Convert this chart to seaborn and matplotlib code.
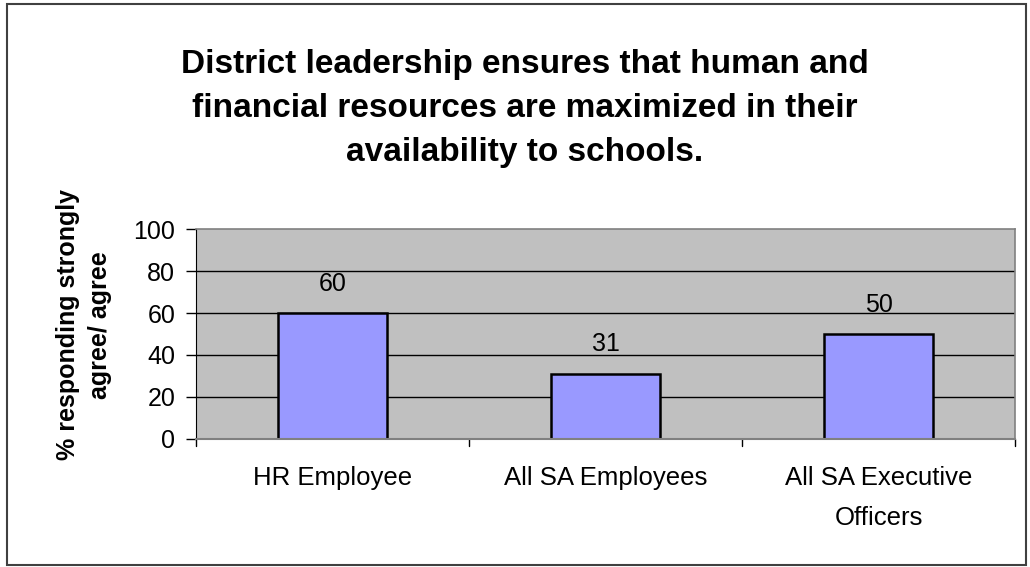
import matplotlib
matplotlib.use("Agg")
import matplotlib.pyplot as plt
import seaborn as sns
import pandas as pd
from matplotlib.patches import Rectangle

categories = ["HR Employee", "All SA Employees", "All SA Executive\nOfficers"]
values = [60, 31, 50]
yticks = [0, 20, 40, 60, 80, 100]

sns.set_style("white")
plt.rcParams["font.family"] = ["Liberation Sans", "DejaVu Sans"]
plt.rcParams.update({"text.color": "black", "axes.labelcolor": "black",
                     "xtick.color": "black", "ytick.color": "black"})

df = pd.DataFrame({"group": categories, "pct": values})

W, H = 1030, 567
fig = plt.figure(figsize=(W / 100, H / 100), dpi=100)
ax_left, ax_right, ax_top, ax_bottom = 196, 1015, 229.3, 438.7
ax = fig.add_axes([ax_left / W, 1 - ax_bottom / H, (ax_right - ax_left) / W, (ax_bottom - ax_top) / H])

ax.set_facecolor("#C0C0C0")
ax.set_axisbelow(True)
for y in yticks[1:-1]:
    ax.axhline(y, color="black", lw=1.0, zorder=1)

sns.barplot(data=df, x="group", y="pct", color="#9999FF", width=0.40,
            edgecolor="black", linewidth=1.8, saturation=1, ax=ax, zorder=2)

for i, v in enumerate(values):
    ax.text(i, v + 14, f"{v}", ha="center", va="center", fontsize=18)

ax.set_ylim(0, 100)
ax.set_xlim(-0.5, 2.5)
ax.set_yticks(yticks)
ax.set_yticklabels([str(t) for t in yticks], fontsize=18)
ax.tick_params(axis="y", direction="out", length=7, width=1, pad=8, left=True)
ax.set_xticks([0, 1, 2])
ax.set_xticklabels(categories, fontsize=18.5, linespacing=1.8)
ax.tick_params(axis="x", length=0, pad=20)
ax.set_xlabel("")
ax.set_ylabel("% responding strongly\nagree/ agree", fontsize=18, fontweight="bold",
              linespacing=1.41)
ax.yaxis.label.set_va("center")
ax.yaxis.set_label_coords((84 - ax_left) / (ax_right - ax_left),
                          (ax_bottom - 325) / (ax_bottom - ax_top))

for side in ["top", "right"]:
    ax.spines[side].set_color("#808080")
    ax.spines[side].set_linewidth(1.2)
ax.spines["left"].set_color("black")
ax.spines["bottom"].set_color("#808080")
ax.spines["bottom"].set_linewidth(1.5)
for side in ax.spines:
    ax.spines[side].set_visible(True)

# small category separator ticks below the baseline
for xb in [-0.5, 0.5, 1.5, 2.5]:
    ax.plot([xb, xb], [0, -3.5], color="black", lw=1, clip_on=False)

fig.suptitle("District leadership ensures that human and\nfinancial resources are maximized in their\navailability to schools.",
             x=525 / W, y=1 - 49 / H, va="top", fontsize=24, fontweight="bold", linespacing=1.54)

fig.patches.append(Rectangle((7 / W, 2 / H), 1019 / W, 561 / H,
                             transform=fig.transFigure, fill=False,
                             edgecolor="#404040", lw=1.5))

fig.savefig("out.png", dpi=100)
